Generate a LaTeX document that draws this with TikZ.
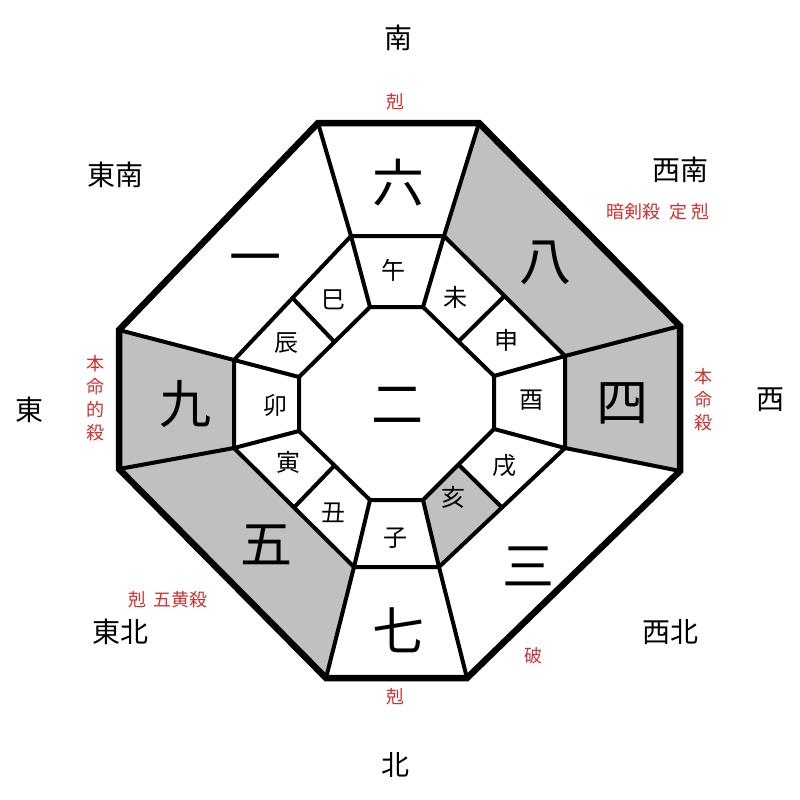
\documentclass[tikz,border=0pt]{standalone}
\usepackage{fontspec}
\newfontfamily\cjk{Noto Sans CJK JP}
\usetikzlibrary{calc}
\definecolor{graycell}{RGB}{192,192,192}
\definecolor{redtxt}{RGB}{205,50,50}
\tikzset{
  big/.style={font=\cjk\fontsize{52}{52}\selectfont, inner sep=0},
  zod/.style={font=\cjk\fontsize{24}{24}\selectfont, inner sep=0},
  dir/.style={font=\cjk\fontsize{28}{28}\selectfont, inner sep=0},
  note/.style={font=\cjk\fontsize{18}{18}\selectfont, text=redtxt, inner sep=0},
  thin/.style={line width=4pt, line join=miter},
  thick/.style={line width=6.5pt, line join=miter}
}
\begin{document}
\begin{tikzpicture}[x=1pt,y=-1pt]
\useasboundingbox (0,0) rectangle (800,800);
\fill[white] (0,0) rectangle (800,800);
\coordinate (O1) at (318,123); \coordinate (O2) at (479,123);
\coordinate (O3) at (680,326); \coordinate (O4) at (680,471);
\coordinate (O5) at (467,678); \coordinate (O6) at (326,678);
\coordinate (O7) at (119,469); \coordinate (O8) at (119,330);
\coordinate (M1) at (351,236); \coordinate (M2) at (444,236);
\coordinate (M3) at (565,356); \coordinate (M4) at (565,448);
\coordinate (M5) at (439,567); \coordinate (M6) at (354,567);
\coordinate (M7) at (234,448); \coordinate (M8) at (234,360);
\coordinate (I1) at (370,307); \coordinate (I2) at (423,307);
\coordinate (I3) at (494,376); \coordinate (I4) at (494,429);
\coordinate (I5) at (423,500); \coordinate (I6) at (370,500);
\coordinate (I7) at (299,431); \coordinate (I8) at (299,377);
% shaded sectors
\fill[graycell] (O2)--(O3)--(M3)--(M2)--cycle;
\fill[graycell] (O3)--(O4)--(M4)--(M3)--cycle;
\fill[graycell] (O6)--(O7)--(M7)--(M6)--cycle;
\fill[graycell] (O7)--(O8)--(M8)--(M7)--cycle;
\fill[graycell] (M5)--(I5)--($(I4)!0.5!(I5)$)--($(M4)!0.5!(M5)$)--cycle;
% lines
\draw[thin] (M1)--(M2)--(M3)--(M4)--(M5)--(M6)--(M7)--(M8)--cycle;
\draw[thin] (I1)--(I2)--(I3)--(I4)--(I5)--(I6)--(I7)--(I8)--cycle;
\foreach \i in {1,...,8}{\draw[thin] (O\i)--(M\i)--(I\i);}
\foreach \a/\b in {2/3,4/5,6/7,8/1}{\draw[thin] ($(M\a)!0.5!(M\b)$)--($(I\a)!0.5!(I\b)$);}
\draw[thick] (O1)--(O2)--(O3)--(O4)--(O5)--(O6)--(O7)--(O8)--cycle;
% big numerals
\node[big] (n6) at (398,183) {六};
\node[big] (n8) at (545,263) {八};
\node[big] (n4) at (622,403) {四};
\node[big] (n3) at (528,566) {三};
\node[big] (n7) at (398,630) {七};
\node[big] (n5) at (266,545) {五};
\node[big] (n9) at (185,404) {九};
\node[big] (n1) at (255,265) {一};
\node[big] (n2) at (397,405) {二};
% zodiac
\node[zod] (z1) at (393,270) {午};
\node[zod] (z2) at (455,297) {未};
\node[zod] (z3) at (506,340) {申};
\node[zod] (z4) at (531,400) {酉};
\node[zod] (z5) at (504,466) {戌};
\node[zod] (z6) at (453,497) {亥};
\node[zod] (z7) at (395,538) {子};
\node[zod] (z8) at (333,513) {丑};
\node[zod] (z9) at (288,462) {寅};
\node[zod] (z10) at (275,405) {卯};
\node[zod] (z11) at (286,343) {辰};
\node[zod] (z12) at (333,300) {巳};
% directions
\node[dir] (dS) at (398,38) {南};
\node[dir] (dSE) at (115,175) {東南};
\node[dir] (dSW) at (680,170) {西南};
\node[dir] (dE) at (30,410) {東};
\node[dir] (dW) at (770,400) {西};
\node[dir] (dNE) at (120,632) {東北};
\node[dir] (dNW) at (670,632) {西北};
\node[dir] (dN) at (395,765) {北};
% notes
\node[note] (t1) at (395,102) {剋};
\node[note] (t2) at (658,212) {暗剣殺\hspace{10pt}定\hspace{4pt}剋};
\node[note, align=center, font=\cjk\fontsize{18}{23}\selectfont] (t3) at (95,398) {本\\命\\的\\殺};
\node[note, align=center, font=\cjk\fontsize{18}{23}\selectfont] (t4) at (703,400) {本\\命\\殺};
\node[note] (t5) at (168,600) {剋\hspace{8pt}五黄殺};
\node[note] (t6) at (533,656) {破};
\node[note] (t7) at (395,697) {剋};
\end{tikzpicture}
\end{document}
